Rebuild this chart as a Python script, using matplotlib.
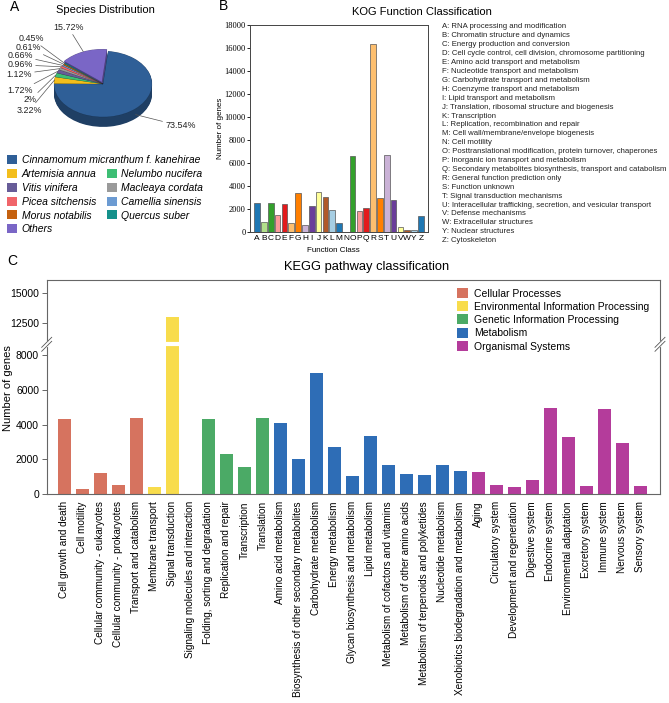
import matplotlib.pyplot as plt
import numpy as np
from matplotlib.colors import to_rgb
from matplotlib.patches import Patch
from matplotlib.lines import Line2D

plt.rcParams['font.family'] = ['Liberation Sans', 'DejaVu Sans']

# ---------------- data ----------------
species = ['Cinnamomum micranthum f. kanehirae', 'Artemisia annua', 'Nelumbo nucifera',
           'Vitis vinifera', 'Macleaya cordata', 'Picea sitchensis', 'Camellia sinensis',
           'Morus notabilis', 'Quercus suber', 'Others']
species_pct = [73.54, 3.22, 2, 1.72, 1.12, 0.96, 0.66, 0.61, 0.45, 15.72]
species_colors = ['#2F5F97', '#F3BE1C', '#3DBE74', '#675C98', '#9A9A9A',
                  '#F0656A', '#6C9BD2', '#C5610F', '#15918B', '#7A66C6']

kog_letters = list('ABCDEFGHIJKLMNOPQRSTUVWYZ')
kog_counts = [2550, 850, 2500, 1450, 2400, 750, 3400, 650, 2250, 3500, 3050, 1950, 800,
              5, 6650, 1850, 2050, 16350, 2950, 6700, 2800, 400, 150, 200, 1400]
kog_desc = [
    'A: RNA processing and modification',
    'B: Chromatin structure and dynamics',
    'C: Energy production and conversion',
    'D: Cell cycle control, cell division, chromosome partitioning',
    'E: Amino acid transport and metabolism',
    'F: Nucleotide transport and metabolism',
    'G: Carbohydrate transport and metabolism',
    'H: Coenzyme transport and metabolism',
    'I: Lipid transport and metabolism',
    'J: Translation, ribosomal structure and biogenesis',
    'K: Transcription',
    'L: Replication, recombination and repair',
    'M: Cell wall/membrane/envelope biogenesis',
    'N: Cell motility',
    'O: Posttranslational modification, protein turnover, chaperones',
    'P: Inorganic ion transport and metabolism',
    'Q: Secondary metabolites biosynthesis, transport and catabolism',
    'R: General function prediction only',
    'S: Function unknown',
    'T: Signal transduction mechanisms',
    'U: Interacellular trafficking, secretion, and vesicular transport',
    'V: Defense mechanisms',
    'W: Extracellular structures',
    'Y: Nuclear structures',
    'Z: Cytoskeleton',
]

kegg_groups = ['Cellular Processes', 'Environmental Information Processing',
               'Genetic Information Processing', 'Metabolism', 'Organismal Systems']
kegg_group_colors = ['#D6735F', '#F8DC4C', '#4BAA66', '#2E6DB6', '#B43C9B']
kegg_terms = [
    'Cell growth and death', 'Cell motility', 'Cellular community - eukaryotes',
    'Cellular community - prokaryotes', 'Transport and catabolism',
    'Membrane transport', 'Signal transduction', 'Signaling molecules and interaction',
    'Folding, sorting and degradation', 'Replication and repair', 'Transcription', 'Translation',
    'Amino acid metabolism', 'Biosynthesis of other secondary metabolites',
    'Carbohydrate metabolism', 'Energy metabolism', 'Glycan biosynthesis and metabolism',
    'Lipid metabolism', 'Metabolism of cofactors and vitamins', 'Metabolism of other amino acids',
    'Metabolism of terpenoids and polyketides', 'Nucleotide metabolism',
    'Xenobiotics biodegradation and metabolism',
    'Aging', 'Circulatory system', 'Development and regeneration', 'Digestive system',
    'Endocrine system', 'Environmental adaptation', 'Excretory system', 'Immune system',
    'Nervous system', 'Sensory system',
]
kegg_counts = [4350, 330, 1220, 520, 4400,
               400, 13050, 20,
               4300, 2300, 1590, 4400,
               4110, 2030, 6980, 2720, 1050, 3350, 1680, 1190, 1090, 1670, 1320,
               1280, 540, 420, 800, 4940, 3290, 460, 4900, 2950, 460]
kegg_term_group = [0] * 5 + [1] * 3 + [2] * 4 + [3] * 11 + [4] * 10

# ---------------- layout helpers ----------------
W, H = 669, 703
fig = plt.figure(figsize=(W / 100, H / 100), dpi=100)


def box(l, t, r, b):
    return [l / W, 1 - b / H, (r - l) / W, (b - t) / H]


def at(x, y):
    return x / W, 1 - y / H


# ---------------- A: pie ----------------
fig.text(*at(10, 7), 'A', fontsize=10, va='center')
fig.text(*at(105, 10), 'Species Distribution', fontsize=8, ha='center', va='center')

axA = fig.add_axes(box(0.1, 31.2, 205.9, 146.7))
depth = 0.3
start = 84
explode = [0] * 9 + [0.06]
side_colors = [tuple(c * 0.66 for c in to_rgb(col)) for col in species_colors]
for d in np.linspace(depth, 0.01, 14):
    axA.pie(species_pct, colors=side_colors, startangle=start, counterclock=False,
            explode=explode, center=(0, -d), wedgeprops=dict(linewidth=0))
wedges, _ = axA.pie(species_pct, colors=species_colors, startangle=start, counterclock=False,
                    explode=explode, wedgeprops=dict(linewidth=0.3, edgecolor=(0, 0, 0, 0.25)))
axA.set_aspect('auto')
axA.set_xlim(-2.1, 2.1)
axA.set_ylim(-1.9, 1.6)
axA.axis('off')

label_pos = [(1.27, -1.27), (-1.24, -0.79), (-1.35, -0.48), (-1.43, -0.21), (-1.45, 0.30),
             (-1.43, 0.58), (-1.43, 0.85), (-1.27, 1.11), (-1.21, 1.38), (-0.71, 1.72)]
label_ha = ['left'] + ['right'] * 8 + ['center']
for w, v, (tx, ty), ha in zip(wedges, species_pct, label_pos, label_ha):
    ang = np.deg2rad((w.theta1 + w.theta2) / 2)
    cx, cy = w.center
    px, py = cx + w.r * np.cos(ang), cy + w.r * np.sin(ang)
    if py < -0.3:
        py -= depth * 0.6
    axA.annotate(f'{v:g}%', xy=(px, py), xytext=(tx, ty), ha=ha, va='center', fontsize=6.4,
                 color='#222222',
                 arrowprops=dict(arrowstyle='-', lw=0.5, color='#555555', shrinkA=0, shrinkB=0))

handles = [Patch(facecolor=c) for c in species_colors]
leg_style = dict(loc='upper left', frameon=False, prop=dict(style='italic', size=7.5),
                 handlelength=0.95, handleheight=0.95, handletextpad=0.45,
                 labelspacing=0.36, borderpad=0, borderaxespad=0)
fig.legend(handles[:1], species[:1], bbox_to_anchor=at(7, 155), **leg_style)
order = [1, 3, 5, 7, 9, 2, 4, 6, 8]
fig.legend([handles[i] for i in order], [species[i] for i in order], ncol=2,
           columnspacing=1.0, bbox_to_anchor=at(7, 169), **leg_style)

# ---------------- B: KOG ----------------
fig.text(*at(223, 6), 'B', fontsize=10, va='center', ha='center')
fig.text(*at(422, 12), 'KOG Function Classification', fontsize=8, ha='center', va='center')

axB = fig.add_axes(box(250, 25, 428, 232))
xb = np.arange(len(kog_letters))
paired = plt.get_cmap('Paired').colors
kog_colors = [paired[(i + 1) % 12] for i in range(len(kog_letters))]
axB.bar(xb, kog_counts, width=0.82, color=kog_colors, edgecolor='#555555', linewidth=0.5)
axB.set_xlim(-1.05, len(xb) + 0.05)
axB.set_ylim(0, 18000)
axB.set_yticks(np.arange(0, 18001, 2000))
axB.set_xticks(xb)
axB.set_xticklabels(kog_letters, fontsize=6)
for lab in axB.get_yticklabels():
    lab.set_family('Liberation Serif')
    lab.set_fontsize(6)
axB.tick_params(axis='x', length=0, pad=2)
axB.tick_params(axis='y', length=2, width=0.6, pad=1)
for s in axB.spines.values():
    s.set_color('#444444')
    s.set_linewidth(0.7)
fig.text(*at(221, 128), 'Number of genes', rotation=90, fontsize=5.8, ha='center', va='center')
fig.text(*at(333, 250), 'Function Class', fontsize=5.8, ha='center', va='center')

for i, t in enumerate(kog_desc):
    fig.text(*at(441.5, 27 + i * 8.9), t, fontsize=5.6, va='center', color='#222222')

# ---------------- C: KEGG ----------------
fig.text(*at(12, 261), 'C', fontsize=10, va='center', ha='center')
fig.text(*at(367, 267), 'KEGG pathway classification', fontsize=9.3, ha='center', va='center')

axT = fig.add_axes(box(46.7, 280, 660, 344.3))
axL = fig.add_axes(box(46.7, 344.3, 660, 494.3))
xk = np.arange(len(kegg_terms))
kcol = [kegg_group_colors[g] for g in kegg_term_group]
for ax in (axT, axL):
    ax.bar(xk, kegg_counts, width=0.72, color=kcol)
    ax.set_xlim(-0.98, len(xk) + 0.09)
    for s in ax.spines.values():
        s.set_color('#666666')
        s.set_linewidth(0.8)
    ax.tick_params(axis='y', length=3.5, width=0.7, color='#666666', pad=2, labelsize=7.5)

axT.set_ylim(10780, 16040)
axT.set_yticks([12500, 15000])
axT.spines['bottom'].set_visible(False)
axT.set_xticks([])

low_top = 8615
axL.set_ylim(0, low_top)
axL.set_yticks(np.arange(0, 8001, 2000))
axL.spines['top'].set_visible(False)
axL.set_xticks(xk)
axL.set_xticklabels(kegg_terms, rotation=90, fontsize=7.2, ha='center', va='top')
axL.tick_params(axis='x', length=0, pad=5)

si = kegg_terms.index('Signal transduction')
axL.plot([si - 0.45, si + 0.45], [low_top, low_top], color='white', lw=3,
         solid_capstyle='butt', clip_on=False, zorder=3)

for xpx in (46.7, 660):
    fig.add_artist(Line2D([xpx / W, xpx / W], [1 - 342.3 / H, 1 - 346.3 / H],
                          color='white', lw=1.6))
    for dy in (-2.0, 2.0):
        fig.add_artist(Line2D([(xpx - 5) / W, (xpx + 5) / W],
                              [1 - (344.3 + dy + 5) / H, 1 - (344.3 + dy - 5) / H],
                              color='#555555', lw=0.6))

fig.legend([Patch(facecolor=c) for c in kegg_group_colors], kegg_groups, loc='upper left',
           bbox_to_anchor=at(457, 288), frameon=False, fontsize=7.5, handlelength=1.1,
           handleheight=1.1, handletextpad=0.5, labelspacing=0.26, borderpad=0,
           borderaxespad=0)

fig.text(*at(8, 388), 'Number of genes', rotation=90, fontsize=8, ha='center', va='center')

fig.savefig('out.png', dpi=100)
